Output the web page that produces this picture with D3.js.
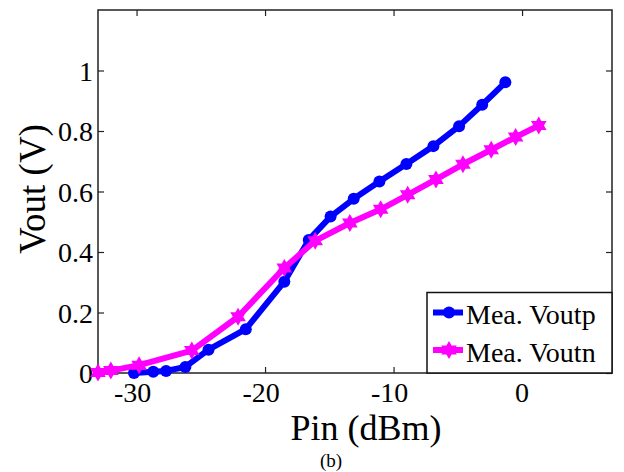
<!DOCTYPE html>
<html>
<head>
<meta charset="utf-8">
<script src="https://cdn.jsdelivr.net/npm/d3@7"></script>
<style>
  html, body { margin: 0; padding: 0; background: #fff; }
  svg { display: block; }
</style>
</head>
<body>
<svg id="chart" width="624" height="472"></svg>
<script>
// Measured output voltage versus input power
const pinP  = [-30.2, -28.7, -27.7, -26.2, -24.4, -21.5, -18.5, -16.6, -14.9, -13.1, -11.1, -9.0, -6.9, -4.9, -3.1, -1.3];
const voutP = [0.000, 0.004, 0.007, 0.020, 0.077, 0.145, 0.302, 0.440, 0.517, 0.576, 0.633, 0.691, 0.750, 0.816, 0.887, 0.961];

const pinN  = [-33.0, -32.0, -29.8, -25.7, -22.1, -18.5, -16.1, -13.4, -11.0, -8.9, -6.7, -4.6, -2.4, -0.5, 1.3];
const voutN = [0.002, 0.008, 0.026, 0.074, 0.186, 0.347, 0.437, 0.496, 0.541, 0.589, 0.640, 0.690, 0.738, 0.780, 0.818];

const seriesNames = ["Mea. Voutp", "Mea. Voutn"];
const xTicks = [-30, -20, -10, 0];
const yTicks = [0, 0.2, 0.4, 0.6, 0.8, 1];
const yTickLabels = ["0", "0.2", "0.4", "0.6", "0.8", "1"];

const FONT = '"Liberation Serif"';

const svg = d3.select("#chart");
const plot = { left: 98, right: 612, top: 10, bottom: 373 };

const x = d3.scaleLinear().domain([-33, 7]).range([plot.left, plot.right]);
const y = d3.scaleLinear().domain([0, 1.2]).range([plot.bottom, plot.top]);

// six-pointed star marker
const hexagram = {
  draw(ctx, size) {
    const r = Math.sqrt(size), ri = r / Math.sqrt(3);
    for (let i = 0; i < 12; i++) {
      const a = -Math.PI / 2 + i * Math.PI / 6;
      const rr = i % 2 === 0 ? r : ri;
      const px = rr * Math.cos(a), py = rr * Math.sin(a);
      if (i === 0) ctx.moveTo(px, py); else ctx.lineTo(px, py);
    }
    ctx.closePath();
  }
};

// axes box with inward ticks on all sides
const tickLen = 6;
const axStyle = g => {
  g.select(".domain").remove();
  g.selectAll(".tick line").attr("stroke", "#222").attr("stroke-width", 1.2);
};
svg.append("g").attr("transform", `translate(0,${plot.bottom})`)
  .call(d3.axisBottom(x).tickValues(xTicks).tickSize(-tickLen).tickFormat(""))
  .call(axStyle);
svg.append("g").attr("transform", `translate(0,${plot.top})`)
  .call(d3.axisTop(x).tickValues(xTicks).tickSize(-tickLen).tickFormat(""))
  .call(axStyle);
svg.append("g").attr("transform", `translate(${plot.left},0)`)
  .call(d3.axisLeft(y).tickValues(yTicks).tickSize(-tickLen).tickFormat(""))
  .call(axStyle);
svg.append("g").attr("transform", `translate(${plot.right},0)`)
  .call(d3.axisRight(y).tickValues(yTicks).tickSize(-tickLen).tickFormat(""))
  .call(axStyle);

svg.append("rect")
  .attr("x", plot.left).attr("y", plot.top)
  .attr("width", plot.right - plot.left).attr("height", plot.bottom - plot.top)
  .attr("fill", "none").attr("stroke", "#222").attr("stroke-width", 1.5);

const txt = sel => sel.style("font-family", FONT).attr("fill", "#000");

// tick labels
svg.append("g").selectAll("text").data(xTicks).join("text")
  .call(txt)
  .attr("x", d => x(d) - (d < 0 ? 4 : 0))
  .attr("y", 401.5)
  .attr("text-anchor", "middle")
  .style("font-size", "28px")
  .text(d => d < 0 ? "-" + Math.abs(d) : String(d));

svg.append("g").selectAll("text").data(yTicks).join("text")
  .call(txt)
  .attr("x", 93)
  .attr("y", d => y(d) + 10)
  .attr("text-anchor", "end")
  .style("font-size", "28px")
  .text((d, i) => yTickLabels[i]);

// axis titles
svg.append("text").call(txt)
  .attr("x", 366).attr("y", 440)
  .attr("text-anchor", "middle").style("font-size", "36px")
  .text("Pin (dBm)");
svg.append("text").call(txt)
  .attr("transform", "translate(45,189) rotate(-90)")
  .attr("text-anchor", "middle").style("font-size", "37px")
  .text("Vout (V)");
svg.append("text").call(txt)
  .attr("x", 331).attr("y", 467)
  .attr("text-anchor", "middle").style("font-size", "19px")
  .text("(b)");

// series
const line = d3.line().x(d => x(d[0])).y(d => y(d[1]));
const dataP = d3.zip(pinP, voutP);
const dataN = d3.zip(pinN, voutN);

svg.append("path").datum(dataP).attr("d", line)
  .attr("fill", "none").attr("stroke", "#0000ff").attr("stroke-width", 6)
  .attr("stroke-linejoin", "round");
svg.append("g").selectAll("circle").data(dataP).join("circle")
  .attr("cx", d => x(d[0])).attr("cy", d => y(d[1])).attr("r", 6)
  .attr("fill", "#0000ff");

svg.append("path").datum(dataN).attr("d", line)
  .attr("fill", "none").attr("stroke", "#ff00ff").attr("stroke-width", 6)
  .attr("stroke-linejoin", "round");
const star = d3.symbol().type(hexagram).size(81);
svg.append("g").selectAll("path").data(dataN).join("path")
  .attr("transform", d => `translate(${x(d[0])},${y(d[1])})`)
  .attr("d", star)
  .attr("fill", "#ff00ff");

// legend
const lg = svg.append("g");
lg.append("rect")
  .attr("x", 427).attr("y", 292.5).attr("width", 612 - 427).attr("height", 373 - 292.5)
  .attr("fill", "#fff").attr("stroke", "#111").attr("stroke-width", 1.5);
const legendItems = [
  { name: seriesNames[0], color: "#0000ff", marker: "circle", cy: 312.5 },
  { name: seriesNames[1], color: "#ff00ff", marker: "star", cy: 350 }
];
legendItems.forEach(it => {
  lg.append("line").attr("x1", 433).attr("x2", 463).attr("y1", it.cy).attr("y2", it.cy)
    .attr("stroke", it.color).attr("stroke-width", 6);
  if (it.marker === "circle") {
    lg.append("circle").attr("cx", 449).attr("cy", it.cy).attr("r", 6).attr("fill", it.color);
  } else {
    lg.append("path").attr("transform", `translate(449,${it.cy})`).attr("d", star).attr("fill", it.color);
  }
  lg.append("text").call(txt).attr("x", 466).attr("y", it.cy + 11.5)
    .style("font-size", "28px").text(it.name);
});
</script>
</body>
</html>
